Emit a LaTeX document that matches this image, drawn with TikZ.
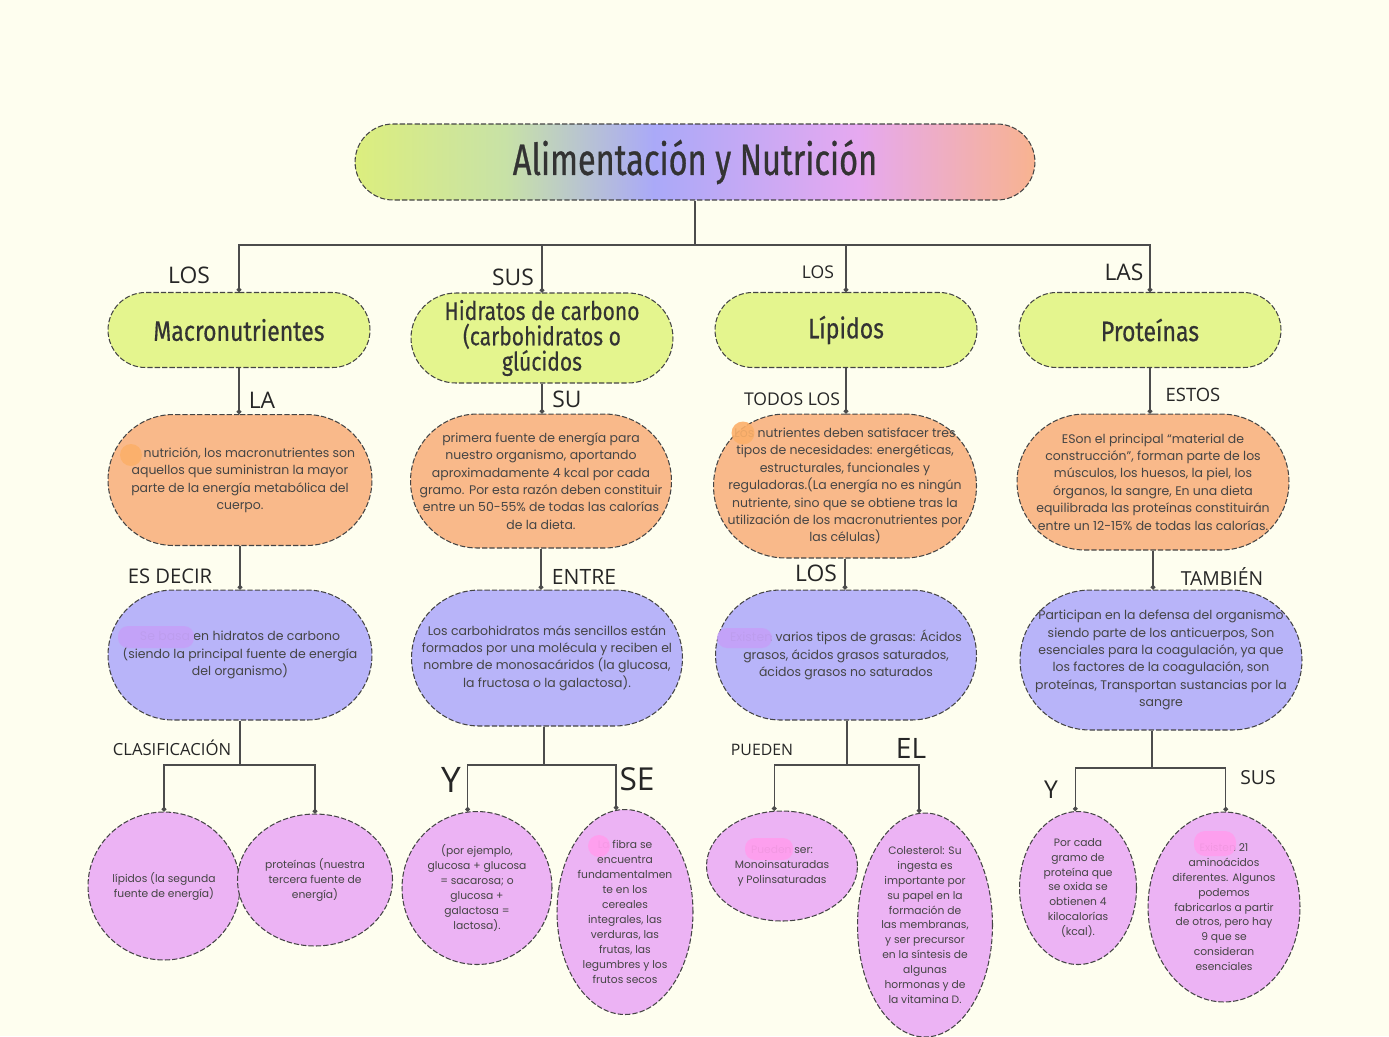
\documentclass[tikz,border=0pt]{standalone}
\usepackage{fontspec}
\setmainfont{Poppins}
\newfontfamily\titlefont[FakeStretch=0.74,FakeBold=0.6]{Fira Sans}
\newfontfamily\headfont[FakeStretch=0.82,FakeBold=0.4]{Fira Sans}
\newfontfamily\tagfont{Open Sans}
\newcommand\headsize{\headfont\fontsize{16}{12.5}\selectfont\lineskiplimit=-20pt\relax}
\newcommand\headsmall{\headfont\fontsize{14.6}{14.4}\selectfont}
\usetikzlibrary{shapes.misc,shapes.geometric,arrows.meta,positioning}

\definecolor{bgcream}{HTML}{FEFEEF}
\definecolor{limebox}{HTML}{E4F58E}
\definecolor{peachbox}{HTML}{F9B98A}
\definecolor{lilacbox}{HTML}{B8B4F9}
\definecolor{pinkbox}{HTML}{ECB3F4}
\definecolor{inkgray}{HTML}{454545}
\definecolor{titleA}{HTML}{DCEE7E}
\definecolor{titleM}{HTML}{C8E2A6}
\definecolor{titleB}{HTML}{AAA9F8}
\definecolor{titleC}{HTML}{E6A9F0}
\definecolor{titleD}{HTML}{F8B390}
\definecolor{blobpeach}{HTML}{FCB06A}
\definecolor{blobviolet}{HTML}{C4A2F8}
\definecolor{blobpink}{HTML}{FF9EEE}

\pgfdeclarehorizontalshading{titleshade}{100bp}{color(0bp)=(titleA); color(25bp)=(titleA); color(36bp)=(titleM); color(47bp)=(titleB); color(62bp)=(titleC); color(75bp)=(titleD); color(100bp)=(titleD)}

\tikzset{
  boxline/.style={draw=inkgray, line width=0.6pt, dash pattern=on 3pt off 1.2pt},
  stadium/.style={boxline, rounded rectangle, inner sep=0pt},
  bubble/.style={boxline, ellipse, inner sep=0pt, fill=pinkbox},
  bodytext/.style={text=inkgray, align=center, font=\fontsize{7.1}{9.9}\selectfont},
  bubtext/.style={text=inkgray, align=center, font=\fontsize{6.1}{8.5}\selectfont},
  headtext/.style={text=black!80, align=center, font=\headsize},
  linktag/.style={text=black!85, inner sep=0pt, font=\tagfont\fontsize{#1}{#1}\selectfont},
  stem/.style={draw=black!70, line width=0.8pt},
  link/.style={stem, -{Circle[length=2.6pt]}},
}

\begin{document}
\begin{tikzpicture}[x=0.02cm, y=-0.02cm]
  \useasboundingbox (0,0) rectangle (1389,1036);
  \fill[bgcream] (0,0) rectangle (1389,1036);

  % title
  \node[stadium, shade, shading=titleshade, minimum width=13.6cm, minimum height=1.52cm,
        text=black!80, font=\titlefont\fontsize{25}{25}\selectfont] (title) at (695,162) {Alimentación y Nutrición};

  % first row
  \node[stadium, fill=limebox, minimum width=5.24cm, minimum height=1.5cm,
        label={[headtext]center:{Macronutrientes}}] (macro) at (239,330) {};
  \node[stadium, fill=limebox, minimum width=5.24cm, minimum height=1.8cm,
        label={[headtext, font=\headsmall]center:{Hidratos de carbono\\(carbohidratos o\\glúcidos}}] (hidra) at (542,338) {};
  \node[stadium, fill=limebox, minimum width=5.24cm, minimum height=1.5cm,
        label={[headtext]center:{Lípidos}}] (lipi) at (846,330) {};
  \node[stadium, fill=limebox, minimum width=5.24cm, minimum height=1.5cm,
        label={[headtext]center:{Proteínas}}] (prote) at (1150,330) {};

  % second row
  \node[stadium, fill=peachbox, minimum width=5.28cm, minimum height=2.62cm,
        label={[bodytext]center:{\hspace*{1.5em}nutrición, los macronutrientes son\\aquellos que suministran la mayor\\parte de la energía metabólica del\\cuerpo.}}] (nutri) at (240,480) {};
  \node[stadium, fill=peachbox, minimum width=5.22cm, minimum height=2.68cm,
        label={[bodytext]center:{primera fuente de energía para\\nuestro organismo, aportando\\aproximadamente 4 kcal por cada\\gramo. Por esta razón deben constituir\\entre un 50-55\% de todas las calorías\\de la dieta.}}] (fuente) at (541,481) {};
  \node[stadium, fill=peachbox, minimum width=5.26cm, minimum height=2.88cm,
        label={[bodytext]center:{Los nutrientes deben satisfacer tres\\tipos de necesidades: energéticas,\\estructurales, funcionales y\\reguladoras.(La energía no es ningún\\nutriente, sino que se obtiene tras la\\utilización de los macronutrientes por\\las células)}}] (nutrs) at (845,486) {};
  \node[stadium, fill=peachbox, minimum width=5.44cm, minimum height=2.72cm,
        label={[bodytext]center:{ESon el principal “material de\\construcción”, forman parte de los\\músculos, los huesos, la piel, los\\órganos, la sangre,  En una dieta\\equilibrada las proteínas constituirán\\entre un 12-15\% de todas las calorías.}}] (mater) at (1153,482) {};

  % third row
  \node[stadium, fill=lilacbox, minimum width=5.28cm, minimum height=2.6cm,
        label={[bodytext]center:{Se basa en hidratos de carbono\\(siendo la principal fuente de energía\\del organismo)}}] (ricos) at (240,655) {};
  \node[stadium, fill=lilacbox, minimum width=5.42cm, minimum height=2.72cm,
        label={[bodytext]center:{Los carbohidratos más sencillos están\\formados por una molécula y reciben el\\nombre de monosacáridos (la glucosa,\\la fructosa o la galactosa).}}] (senci) at (547,658) {};
  \node[stadium, fill=lilacbox, minimum width=5.22cm, minimum height=2.6cm,
        label={[bodytext]center:{Existen varios tipos de grasas: Ácidos\\grasos, ácidos grasos saturados,\\ácidos grasos no saturados}}] (grasas) at (846,655) {};
  \node[stadium, fill=lilacbox, minimum width=5.64cm, minimum height=2.8cm,
        label={[bodytext]center:{Participan en la defensa del organismo\\siendo parte de los anticuerpos, Son\\esenciales para la coagulación, ya que\\los factores de la coagulación, son\\proteínas, Transportan sustancias por la\\sangre}}] (defen) at (1161,660) {};

  % bubbles
  \node[bubble, minimum width=3.04cm, minimum height=2.96cm,
        label={[bubtext]center:{lípidos (la segunda\\fuente de energía)}}] (lip) at (164,886) {};
  \node[bubble, minimum width=3.1cm, minimum height=2.64cm,
        label={[bubtext]center:{proteínas (nuestra\\tercera fuente de\\energía)}}] (prot) at (315,880) {};
  \node[bubble, minimum width=3.0cm, minimum height=3.06cm,
        label={[bubtext]center:{(por ejemplo,\\glucosa + glucosa\\= sacarosa; o\\glucosa +\\galactosa =\\lactosa).}}] (sacar) at (477,888) {};
  \node[bubble, minimum width=2.72cm, minimum height=4.1cm,
        label={[bubtext]center:{La fibra se\\encuentra\\fundamentalmen\\te en los\\cereales\\integrales, las\\verduras, las\\frutas, las\\legumbres y los\\frutos secos}}] (fibra) at (625,912) {};
  \node[bubble, minimum width=3.02cm, minimum height=2.2cm,
        label={[bubtext]center:{Pueden ser:\\Monoinsaturadas\\y Polinsaturadas}}] (insat) at (782,866) {};
  \node[bubble, minimum width=2.7cm, minimum height=4.48cm,
        label={[bubtext]center:{Colesterol: Su\\ingesta es\\importante por\\su papel en la\\formación de\\las membranas,\\y ser precursor\\en la síntesis de\\algunas\\hormonas y de\\la vitamina D.}}] (coles) at (925,925) {};
  \node[bubble, minimum width=2.34cm, minimum height=3.06cm,
        label={[bubtext]center:{Por cada\\gramo de\\proteína que\\se oxida se\\obtienen 4\\kilocalorías\\(kcal).}}] (cada) at (1078,888) {};
  \node[bubble, minimum width=3.04cm, minimum height=3.8cm,
        label={[bubtext]center:{Existen 21\\aminoácidos\\diferentes. Algunos\\podemos\\fabricarlos a partir\\de otros, pero hay\\9 que se\\consideran\\esenciales}}] (amino) at (1224,907) {};

  % highlight marks over the first words
  \fill[blobpeach, opacity=0.92] (131,455) circle[radius=0.22cm];
  \fill[blobpeach, opacity=0.9] (743,433) circle[radius=0.23cm];
  \fill[blobviolet, opacity=0.95, rounded corners=0.2cm] (118,626) rectangle (194,648);
  \fill[blobviolet, opacity=0.95, rounded corners=0.2cm] (717,628) rectangle (772,648);
  \fill[blobpink, opacity=0.95] (599,846) circle[radius=0.22cm];
  \fill[blobpink, opacity=0.93, rounded corners=0.2cm] (745,838) rectangle (793,860);
  \fill[blobpink, opacity=0.93, rounded corners=0.22cm] (1194,831) rectangle (1236,856);

  % connectors
  \coordinate (split) at (695,245);
  \draw[stem] (title.south) -- (split);
  \foreach \n in {macro,hidra,lipi,prote}
    \draw[link] (split) -| (\n.north);
  \foreach \a/\b in {macro/nutri,hidra/fuente,lipi/nutrs,prote/mater,nutri/ricos,fuente/senci,nutrs/grasas,mater/defen}
    \draw[link] (\a.south) -- (\a.south |- \b.north);
  \foreach \a/\sx/\by/\b/\c in {ricos/240/765/lip.north/prot.north,senci/544/765/sacar.97/fibra.95,grasas/847/765/insat.98/coles.93,defen/1152/768/cada.92/amino.89}
  {
    \draw[stem] (\sx,0 |- \a.south) -- (\sx,\by) coordinate (bar\a);
    \draw[link] (bar\a) -| (\b);
    \draw[link] (bar\a) -| (\c);
  }

  % connector words
  \foreach \nm/\tx/\ty/\sz/\word in {los1/189/275/13/LOS, sus1/513/277/13/SUS, los2/818/272/10/LOS, las1/1124/272/13/LAS,
      la1/262/400/13/LA, su1/567/399/13/SU, todos/792/399/10/TODOS LOS, estos/1193/395/10.5/ESTOS,
      esdecir/170/576/11.5/ES DECIR, entre/584/577/12/ENTRE, los3/816/573/13/LOS, tambien/1222/576/11/TAMBIÉN,
      clasif/172/748/9.5/CLASIFICACIÓN, y1/451/780/20/Y, se1/637/779/18/SE, pueden/762/750/9/PUEDEN,
      el1/911/748/16/EL, y2/1051/790/14/Y, sus2/1258/778/11/SUS}
    \node[linktag=\sz] (tag\nm) at (\tx,\ty) {\word};
\end{tikzpicture}
\end{document}
